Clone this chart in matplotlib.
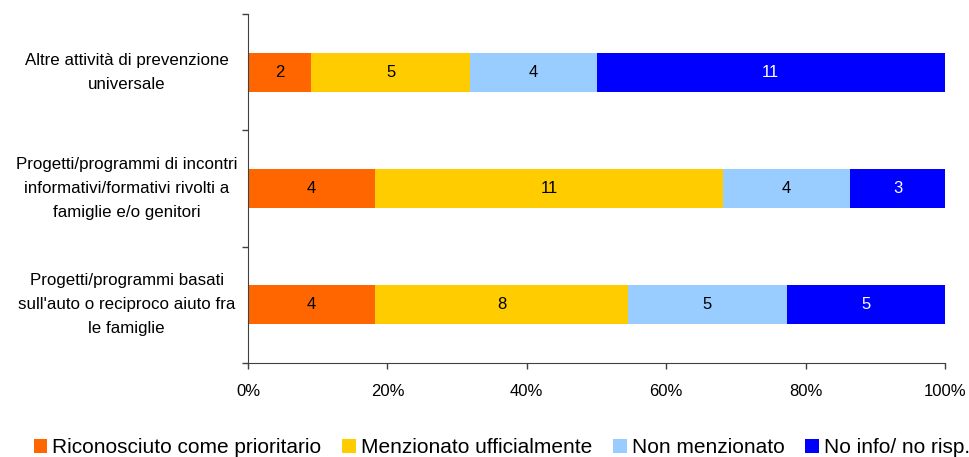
import matplotlib
matplotlib.use("Agg")
import matplotlib.pyplot as plt
import numpy as np

plt.rcParams["font.family"] = ["Liberation Sans", "DejaVu Sans"]

categories = [
    "Altre attività di prevenzione\nuniversale",
    "Progetti/programmi di incontri\ninformativi/formativi rivolti a\nfamiglie e/o genitori",
    "Progetti/programmi basati\nsull'auto o reciproco aiuto fra\nle famiglie",
]
series = ["Riconosciuto come prioritario", "Menzionato ufficialmente",
          "Non menzionato", "No info/ no risp."]
counts = np.array([
    [2, 5, 4, 11],
    [4, 11, 4, 3],
    [4, 8, 5, 5],
])
colors = ["#FF6600", "#FFCC00", "#99CCFF", "#0000FF"]
text_colors = ["black", "black", "black", "white"]

fig = plt.figure(figsize=(9.7, 4.57), dpi=100)
ax = fig.add_axes([0.2557, 0.2057, 0.7185, 0.7637])

shares = counts / counts.sum(axis=1, keepdims=True) * 100
y = np.arange(len(categories))
left = np.zeros(len(categories))
for j, name in enumerate(series):
    bars = ax.barh(y, shares[:, j], left=left, height=0.335, color=colors[j],
                   label=name, edgecolor="none")
    for i, b in enumerate(bars):
        ax.text(left[i] + shares[i, j] / 2, y[i], str(counts[i, j]),
                ha="center", va="center", fontsize=12, color=text_colors[j])
    left += shares[:, j]

ax.set_xlim(0, 100)
ax.set_ylim(2.5, -0.5)
ax.set_xticks(np.arange(0, 101, 20))
ax.set_xticklabels([f"{v}%" for v in range(0, 101, 20)], fontsize=12)
ax.set_yticks([-0.5, 0.5, 1.5, 2.5])
ax.set_yticklabels([])
ax.tick_params(axis="both", length=4, width=1, color="#404040")
ax.tick_params(axis="x", pad=11)
for s in ["top", "right"]:
    ax.spines[s].set_visible(False)
for s in ["left", "bottom"]:
    ax.spines[s].set_color("#404040")

for i, cat in enumerate(categories):
    ax.text(-0.174, y[i], cat, transform=ax.get_yaxis_transform(),
            ha="center", va="center", fontsize=12.2, multialignment="center",
            linespacing=1.76)

ax.legend(loc="center", bbox_to_anchor=(0.5175, 0.02),
          bbox_transform=fig.transFigure, ncol=4, frameon=False,
          fontsize=15, handlelength=0.65, handleheight=0.65,
          handletextpad=0.25, columnspacing=1.0)

fig.savefig("out.png", dpi=100)
